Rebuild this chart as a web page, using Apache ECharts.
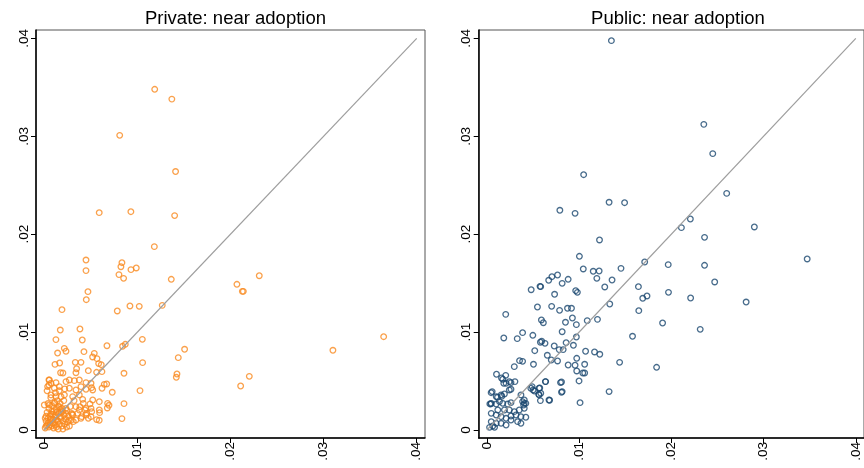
<!DOCTYPE html>
<html>
<head>
<meta charset="utf-8">
<script src="https://cdn.jsdelivr.net/npm/echarts@6/dist/echarts.min.js"></script>
<style>html,body{margin:0;padding:0;background:#fff}#c{width:864px;height:468px}</style>
</head>
<body>
<div id="c"></div>
<script>
var titles = ['Private: near adoption', 'Public: near adoption'];
var tickValues = [0, 0.01, 0.02, 0.03, 0.04];
var tickLabels = ['0', '.01', '.02', '.03', '.04'];
var diagonal = [[0, 0], [0.04, 0.04]];

var privatePts = [
[.01186,.0348],[.0137,.0338],[.0081,.0301],[.0141,.0264],[.0059,.0222],[.0093,.0223],[.0140,.0219],
[.01182,.01873],[.00448,.01736],[.00834,.01709],[.00823,.01668],[.00448,.01628],[.00988,.01655],[.00931,.01638],[.00802,.01587],[.00852,.01549],[.01364,.01539],[.02309,.01576],[.02069,.01488],[.02127,.01416],[.02138,.01416],[.00469,.01413],[.00451,.01331],[.0019,.01229],[.0092,.01267],[.0102,.01263],[.01267,.01273],[.00784,.01216],[.00172,.01021],[.00383,.01032],[.00125,.00923],[.00408,.00919],[.01053,.00926],[.00673,.00861],[.00841,.00855],[.0087,.00875],[.00215,.00834],[.00233,.00804],[.00143,.00786],[.00426,.008],[.00537,.00783],[.01507,.00824],[.031,.00814],[.03645,.00953],[.01439,.00739],[.01056,.00688],[.00115,.0067],[.00165,.00684],[.00333,.00691],[.00394,.00691],[.00519,.00746],[.00566,.00729],[.00584,.00678],[.00612,.00667],[.00619,.00596],[.00562,.00589],[.00347,.00626],[.00473,.00606],[.00175,.00585],[.002,.00582],[.0034,.00585],[.00856,.00579],[.01425,.00572],[.01418,.00538],[.02202,.00548],[.02109,.00449],[.01028,.00402],[.0073,.00385],[.0067,.0047],[.00644,.00466],[.00508,.00432],[.0062,.00426],[.00856,.00269],[.0068,.00272],[.00695,.00252],[.00677,.00225],[.00834,.00116],[.00562,.00106],[.00594,.00177],[.0059,.00099],
[.00054,.00511],[.00072,.00477],[.00126,.00484],[.00233,.00494],[.00269,.00511],[.00323,.00504],[.00376,.00511],[.00448,.00484],[.00502,.00477],
[.00036,.00443],[.00108,.00426],[.00162,.00443],[.00269,.00426],[.0034,.00409],[.00394,.00443],[.00448,.00416],[.0052,.00409],
[.00072,.00358],[.00126,.00341],[.00216,.00358],[.00305,.00341],[.00376,.00358],[.00412,.00313],[.0052,.00306],[.00591,.00289],
[0,.00255],[.00054,.00255],[.00108,.00272],[.00162,.00238],[.00233,.00221],[.0034,.00238],[.00376,.00204],[.00448,.00221],[.00502,.00221],[.00591,.00204],
[.00269,.00102],[.0034,.00102],[.00394,.00119],[.00448,.00153],[.00502,.00136],[.00305,.00153],[.00358,.0017],
[.00383,.00238],[.00437,.00204],[.00455,.0017],[.00491,.00266],[.00402,.00136],[.00312,.00085],[.00473,.0012],[.00509,.00187],[.00419,.00272],[.00294,.0017],
[.0005,.0051],[.0005,.0046],
[.0001,.0002],[.0003,.0005],[.0005,.0003],[.0002,.0009],[.0004,.0012],[.0006,.0008],[.0008,.0004],[.0009,.0011],[.0011,.0007],[.0012,.0015],[.0013,.0003],[.0014,.0010],[.0016,.0006],[.0017,.0013],[.0018,.0018],[.0019,.0004],[.0020,.0009],[.0021,.0015],[.0022,.0006],[.0023,.0011],[.0024,.0003],[.0025,.0008],[.0026,.0014],[.0007,.0016],[.0010,.0019],[.0013,.0021],[.0015,.0024],[.0003,.0018],[.0005,.0022],[.0008,.0025],[.0011,.0028],[.0014,.0030],[.0017,.0027],[.0019,.0022],[.0021,.0030],[.0002,.0014],[.0006,.0005],[.0010,.0002],[.0015,.0001],[.0020,.0001],[.0027,.0004],[.0029,.0010],[.0030,.0016],[.0012,.0005],[.0016,.0017],[.0009,.0007],[.0004,.0027],[.0001,.0012],[.0018,.0034],[.0024,.0020],[.0028,.0024],[.0032,.0030],[.0007,.0033],[.0012,.0038],[.0003,.0040],[.0016,.0040],[.0022,.0042],
[.0004,.0007],[.0007,.0011],[.0011,.0013],[.0015,.0009],[.0018,.0012],[.0009,.0016],[.0013,.0018],[.0017,.0021],[.0006,.0014],[.0002,.0004],[.0020,.0019],[.0023,.0017],[.0012,.0010],[.0008,.0019]
];

var publicPts = [
[.0135,.03977],[.02352,.03122],[.02449,.02823],[.01049,.02608],[.026,.02417],[.00791,.02244],[.00956,.02213],[.01325,.02326],[.01493,.02322],[.02206,.02155],[.02109,.02067],[.029,.02074],
[.01221,.01941],[.0236,.01968],[.01003,.01774],[.03473,.01747],[.01711,.01716],[.01966,.01689],[.0236,.01682],[.01045,.01645],[.01153,.01621],[.01217,.01624],[.01454,.01651],[.00766,.01583],[.00705,.01566],[.0067,.01529],[.00881,.01539],[.00816,.01498],[.01192,.01549],[.01357,.01532],[.0048,.01433],[.00576,.01467],[.00583,.01464],[.01278,.01461],[.01643,.01464],[.0247,.01512],[.00963,.01423],[.00981,.01406],[.00734,.01386],[.0169,.01345],[.01736,.01369],[.01969,.01406],[.02209,.01348],[.02811,.01307],[.00548,.01256],[.00702,.01263],[.01332,.01287],[.00788,.01222],[.00874,.01243],[.00917,.01243],[.00927,.01144],[.00204,.01181],[.01647,.01219],[.00591,.01124],[.00612,.01096],[.00852,.011],[.0097,.01076],[.01088,.01117],[.01199,.0113],[.01905,.01093],[.02313,.01028],[.00387,.00994],[.00498,.00967],[.00183,.0094],[.00329,.00933],[.00816,.01004],[.0097,.0095],[.00938,.00865],[.00859,.00892],[.0058,.00896],[.00594,.00906],[.0063,.00885],[.0073,.00858],[.00784,.00821],[.00827,.00821],[.00519,.0081],[.00655,.00763],[.0107,.00804],[.01167,.00797],[.01224,.00773],[.01579,.00957],[.00354,.00708],[.00387,.00701],[.00297,.00647],[.00505,.00671],[.00698,.00715],[.00766,.00705],[.00974,.00732],[.00881,.00664],[.00956,.00661],[.0106,.00671],[.00974,.00603],[.0104,.00582],[.0106,.00582],[.01439,.00691],[.0184,.0064],[.00104,.00569],[.00204,.00558],[.00158,.00531],[.00183,.00477],[.00208,.00477],[.00243,.00494],[.00304,.00494],[.00634,.00494],[.00809,.0049],[.00999,.00501],[.0049,.00443],[.00501,.00409],[.00516,.00398],[.00573,.00429],[.00562,.00364],[.0058,.003],[.0068,.00303],[.00809,.00385],[.01325,.00392],[.0101,.00279],[.00057,.00392],[.00046,.00381],[.00161,.00344],[.00115,.00334],[.00032,.00266],[.00043,.00266],
[.00172,.00518],[.00261,.00484],[.00243,.00409],[.00261,.00416],[.00154,.00358],[.0019,.00368],[.00101,.00341],[.00136,.0029],
[.00047,.00272],[.00101,.00265],[.00172,.00272],[.00225,.00265],[.00261,.00279],[.00369,.00358],
[.00387,.0029],[.00405,.00272],[.00398,.00255],[.00422,.00272],[.00405,.00306],
[.00476,.00426],[.00566,.00426],[.00584,.00375],[.00566,.00358],[.00673,.00306],[.00637,.00494],[.00798,.00484],[.00816,.00392],
[.00118,.00204],[.0019,.00204],[.00243,.00204],[.00297,.00187],[.00351,.00204],[.00405,.00221],
[.00047,.0017],[.00101,.00153],[.00154,.00136],[.00208,.00119],[.00261,.00143],[.00315,.00153],[.00369,.00136],[.00422,.0013],
[.00047,.00085],[.00101,.00068],[.00154,.00068],[.00208,.00051],[.00261,.00102],[.00333,.00085],[.00369,.00068],[.00029,.00027],[.00064,.00041],[.00083,.00027]
];

var colors = ['#F98A1F', '#1A476F'];
var font = 'Liberation Sans, Arial, Helvetica, sans-serif';

function fmt(v) {
  var i = tickValues.indexOf(v);
  return i >= 0 ? tickLabels[i] : '';
}
function xAxisFor(g) {
  return {
    gridIndex: g, type: 'value', min: -0.00089, max: 0.04089,
    axisLine: {show: true, onZero: false, lineStyle: {color: '#000', width: 1.5}},
    axisTick: {show: true, length: 5, customValues: tickValues, lineStyle: {color: '#000', width: 1}},
    axisLabel: {customValues: tickValues, rotate: 90, margin: 4, fontSize: 13.5, color: '#000', fontFamily: font, formatter: fmt},
    splitLine: {show: false}
  };
}
function yAxisFor(g) {
  return {
    gridIndex: g, type: 'value', min: -0.00082, max: 0.04086,
    axisLine: {show: true, onZero: false, lineStyle: {color: '#000', width: 1.5}},
    axisTick: {show: true, length: 5, customValues: tickValues, lineStyle: {color: '#000', width: 1}},
    axisLabel: {customValues: tickValues, rotate: 90, margin: 5, fontSize: 13.5, color: '#000', fontFamily: font, formatter: fmt},
    splitLine: {show: false}
  };
}
function scatter(g, pts) {
  return {
    type: 'scatter', xAxisIndex: g, yAxisIndex: g, data: pts, symbol: 'circle', symbolSize: 5.6,
    itemStyle: {color: 'rgba(0,0,0,0)', borderColor: colors[g], borderWidth: 1.3},
    silent: true, z: 2
  };
}
function diag(g) {
  return {
    type: 'line', xAxisIndex: g, yAxisIndex: g, data: diagonal, symbol: 'none',
    lineStyle: {color: '#9E9E9E', width: 1.2}, silent: true, z: 3
  };
}

var chart = echarts.init(document.getElementById('c'), null, {renderer: 'canvas'});
chart.setOption({
  animation: false,
  backgroundColor: '#fff',
  title: [
    {text: titles[0], left: 230.5, top: 4, textAlign: 'center', textStyle: {fontSize: 18.5, fontWeight: 'normal', color: '#000', fontFamily: font}},
    {text: titles[1], left: 673, top: 4, textAlign: 'center', textStyle: {fontSize: 18.5, fontWeight: 'normal', color: '#000', fontFamily: font}}
  ],
  grid: [
    {left: 36, top: 30, width: 389, height: 408, show: true, borderColor: '#555', borderWidth: 1, backgroundColor: 'transparent'},
    {left: 478.7, top: 30, width: 389, height: 408, show: true, borderColor: '#555', borderWidth: 1, backgroundColor: 'transparent'}
  ],
  xAxis: [xAxisFor(0), xAxisFor(1)],
  yAxis: [yAxisFor(0), yAxisFor(1)],
  series: [scatter(0, privatePts), diag(0), scatter(1, publicPts), diag(1)]
});
</script>
</body>
</html>
